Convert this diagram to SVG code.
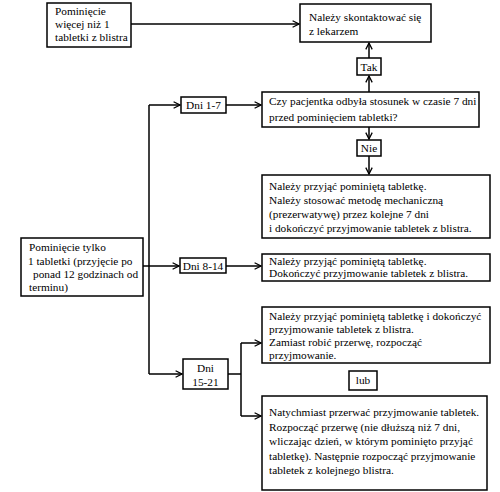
<svg xmlns="http://www.w3.org/2000/svg" width="500" height="492" viewBox="0 0 500 492">
<style>
rect{fill:#fff;stroke:#000;stroke-width:1.5}
text{font-family:"Liberation Serif","Times New Roman",serif;font-size:11.3px;fill:#000}
.c{text-anchor:middle}
.ln{fill:none;stroke:#000;stroke-width:1.5}
.ar{marker-end:url(#a)}
</style>
<defs>
<marker id="a" viewBox="0 0 10 10" refX="9" refY="5" markerWidth="8" markerHeight="8" markerUnits="userSpaceOnUse" orient="auto">
<path d="M1,1 L9,5 L1,9" fill="none" stroke="#000" stroke-width="1.6"/>
</marker>
</defs>
<g id="connectors">
<path class="ln ar" d="M131,24 H299"/>
<path class="ln ar" d="M369,58 V43"/>
<path class="ln ar" d="M369,92 V76"/>
<path class="ln ar" d="M369,127 V139"/>
<path class="ln ar" d="M369,156 V174"/>
<path class="ln" d="M149,105 V374"/>
<path class="ln ar" d="M149,105 H180"/>
<path class="ln ar" d="M133,266 H179"/>
<path class="ln ar" d="M149,374 H182"/>
<path class="ln ar" d="M226,105 H261"/>
<path class="ln ar" d="M226,266 H261"/>
<path class="ln" d="M228,374 H241 M241,343 V416"/>
<path class="ln ar" d="M241,343 H261"/>
<path class="ln ar" d="M241,416 H261"/>
</g>
<g id="n1"><rect x="47" y="3" width="84" height="44"/>
<text x="55" y="15">Pominięcie</text><text x="55" y="28">więcej niż 1</text><text x="55" y="41">tabletki z blistra</text></g>
<g id="n2"><rect x="300" y="4" width="131" height="38"/>
<text x="309" y="21">Należy skontaktować się</text><text x="309" y="35">z lekarzem</text></g>
<g id="tak"><rect x="357" y="58" width="24" height="17"/><text class="c" x="369" y="71">Tak</text></g>
<g id="q"><rect x="262" y="92" width="217" height="35"/>
<text x="269" y="105">Czy pacjentka odbyła stosunek w czasie 7 dni</text><text x="269" y="121">przed pominięciem tabletki?</text></g>
<g id="nie"><rect x="357" y="140" width="24" height="16"/><text class="c" x="369" y="152">Nie</text></g>
<g id="n3"><rect x="262" y="175" width="228" height="63"/>
<text x="269" y="190">Należy przyjąć pominiętą tabletkę.</text>
<text x="269" y="204">Należy stosować metodę mechaniczną</text>
<text x="269" y="218">(prezerwatywę) przez kolejne 7 dni</text>
<text x="269" y="232">i dokończyć przyjmowanie tabletek z blistra.</text></g>
<g id="left"><rect x="21" y="238" width="122" height="58"/>
<text x="29" y="251">Pominięcie tylko</text>
<text x="28" y="265">1 tabletki (przyjęcie po</text>
<text x="33" y="278">ponad 12 godzinach od</text>
<text x="29" y="291">terminu)</text></g>
<g id="d17"><rect x="181" y="97" width="45" height="16"/><text class="c" x="203.5" y="109">Dni 1-7</text></g>
<g id="d814"><rect x="180" y="258" width="46" height="15"/><text class="c" x="203" y="270">Dni 8-14</text></g>
<g id="d1521"><rect x="183" y="359" width="45" height="30"/><text class="c" x="205.5" y="372">Dni</text><text class="c" x="205.5" y="386">15-21</text></g>
<g id="n4"><rect x="262" y="254" width="228" height="27"/>
<text x="269" y="265">Należy przyjąć pominiętą tabletkę.</text>
<text x="269" y="277">Dokończyć przyjmowanie tabletek z blistra.</text></g>
<g id="n5"><rect x="262" y="307" width="228" height="56"/>
<text x="269" y="320">Należy przyjąć pominiętą tabletkę i dokończyć</text>
<text x="269" y="333">przyjmowanie tabletek z blistra.</text>
<text x="269" y="346">Zamiast robić przerwę, rozpocząć</text>
<text x="269" y="359">przyjmowanie.</text></g>
<g id="lub"><rect x="349" y="371" width="28" height="19"/><text class="c" x="363" y="384">lub</text></g>
<g id="n6"><rect x="262" y="396" width="225" height="94"/>
<text x="269" y="416">Natychmiast przerwać przyjmowanie tabletek.</text>
<text x="269" y="431">Rozpocząć przerwę (nie dłuższą niż 7 dni,</text>
<text x="269" y="445">wliczając dzień, w którym pominięto przyjąć</text>
<text x="269" y="460">tabletkę). Następnie rozpocząć przyjmowanie</text>
<text x="269" y="474">tabletek z kolejnego blistra.</text></g>
</svg>
